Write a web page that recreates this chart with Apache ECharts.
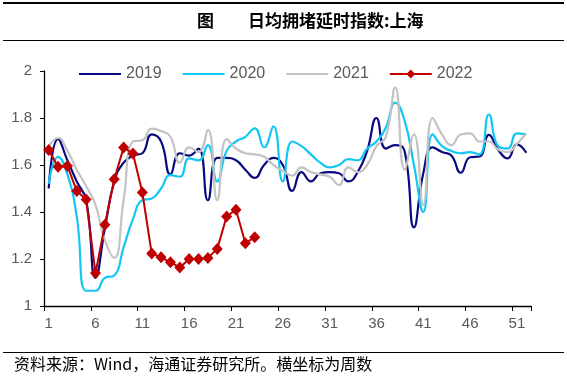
<!DOCTYPE html>
<html><head><meta charset="utf-8">
<script src="https://cdn.jsdelivr.net/npm/echarts@6/dist/echarts.min.js"></script>
<style>html,body{margin:0;padding:0;background:#fff}#c{width:567px;height:378px}</style>
</head><body><div id="c"></div>
<script>
const weeks = ['1','2','3','4','5','6','7','8','9','10','11','12','13','14','15','16','17','18','19','20','21','22','23','24','25','26','27','28','29','30','31','32','33','34','35','36','37','38','39','40','41','42','43','44','45','46','47','48','49','50','51','52'];
const seriesNames = ['2019','2020','2021','2022'];
const s2019 = [1.50,1.71,1.62,1.53,1.45,1.12,1.33,1.53,1.61,1.64,1.65,1.73,1.70,1.56,1.65,1.64,1.67,1.45,1.63,1.63,1.62,1.58,1.545,1.60,1.63,1.60,1.49,1.57,1.53,1.565,1.57,1.565,1.53,1.57,1.66,1.80,1.67,1.685,1.66,1.335,1.565,1.675,1.655,1.64,1.567,1.633,1.636,1.728,1.664,1.628,1.688,1.652];
const s2020 = [1.52,1.635,1.56,1.38,1.065,1.065,1.12,1.13,1.25,1.37,1.45,1.457,1.50,1.557,1.55,1.628,1.62,1.685,1.53,1.66,1.70,1.72,1.756,1.675,1.765,1.53,1.70,1.68,1.645,1.61,1.59,1.60,1.625,1.62,1.67,1.70,1.76,1.865,1.79,1.60,1.40,1.73,1.68,1.66,1.65,1.655,1.645,1.815,1.68,1.67,1.735,1.73];
const s2021 = [1.68,1.715,1.66,1.58,1.51,1.43,1.28,1.205,1.45,1.70,1.705,1.755,1.745,1.72,1.61,1.675,1.655,1.75,1.45,1.71,1.67,1.65,1.645,1.635,1.60,1.575,1.555,1.59,1.57,1.56,1.55,1.515,1.59,1.57,1.60,1.68,1.72,1.93,1.58,1.73,1.43,1.80,1.73,1.685,1.73,1.735,1.70,1.70,1.665,1.655,1.69,1.735];
const s2022 = [1.664,1.593,1.596,1.489,1.453,1.14,1.346,1.539,1.674,1.649,1.483,1.223,1.207,1.186,1.164,1.20,1.20,1.204,1.243,1.381,1.41,1.267,1.293];
const titleMark = '图';
const titleText = '日均拥堵延时指数:上海';
const sourceText = '资料来源：Wind，海通证券研究所。横坐标为周数';

const chart = echarts.init(document.getElementById('c'), null, {renderer:'canvas'});
const FONT = '"Liberation Sans", Arial, sans-serif';
const CJK = '"Noto Sans CJK SC", sans-serif';
const colors = {'2019':'#0A0A80','2020':'#13C6F4','2021':'#C3C3C3','2022':'#C00000'};
const smoothLine = (name, data) => ({
  name, type:'line', data, smooth:0.5, symbol:'none', showSymbol:false,
  lineStyle:{color:colors[name], width:2.2}, itemStyle:{color:colors[name]}
});
chart.setOption({
  animation:false,
  backgroundColor:'#fff',
  textStyle:{fontFamily:FONT},
  grid:{left:44, right:36, top:71, bottom:72},
  legend:{
    data:seriesNames.map(n => n === '2022' ? {name:n} : {name:n, itemStyle:{opacity:0}}),
    left:73, top:61, itemWidth:42, itemHeight:11, itemGap:20,
    textStyle:{fontSize:16, color:'#595959', fontFamily:FONT}
  },
  xAxis:{
    type:'category', data:weeks, boundaryGap:true,
    axisLine:{lineStyle:{color:'#000', width:1.3}},
    axisTick:{show:true, length:5, interval:4, lineStyle:{color:'#000'}},
    axisLabel:{interval:4, color:'#595959', fontSize:15, margin:10, fontFamily:FONT},
    splitLine:{show:false}
  },
  yAxis:{
    type:'value', min:1, max:2, interval:0.2,
    axisLine:{show:true, lineStyle:{color:'#000', width:1.3}},
    axisTick:{show:true, length:4, lineStyle:{color:'#000'}},
    axisLabel:{color:'#595959', fontSize:15, margin:12, fontFamily:FONT},
    splitLine:{show:false}
  },
  series:[
    smoothLine('2019', s2019),
    smoothLine('2020', s2020),
    smoothLine('2021', s2021),
    {name:'2022', type:'line', data:s2022, symbol:'diamond', symbolSize:[11,12], showAllSymbol:true,
     lineStyle:{color:colors['2022'], width:2}, itemStyle:{color:colors['2022']}}
  ],
  graphic:[
    {type:'rect', shape:{x:3, y:2, width:561, height:2}, style:{fill:'#000'}},
    {type:'text', x:197, y:21, style:{text:titleMark, font:'bold 17px '+CJK, fill:'#000', textVerticalAlign:'middle'}},
    {type:'text', x:248, y:21, style:{text:titleText, font:'bold 17px '+CJK, fill:'#000', textVerticalAlign:'middle'}},
    {type:'rect', shape:{x:3, y:40, width:561, height:1}, style:{fill:'#000'}},
    {type:'rect', shape:{x:3, y:352, width:561, height:1}, style:{fill:'#000'}},
    {type:'text', x:14, y:364, style:{text:sourceText, font:'16px '+CJK, fill:'#000', textVerticalAlign:'middle'}}
  ]
});
</script></body></html>
